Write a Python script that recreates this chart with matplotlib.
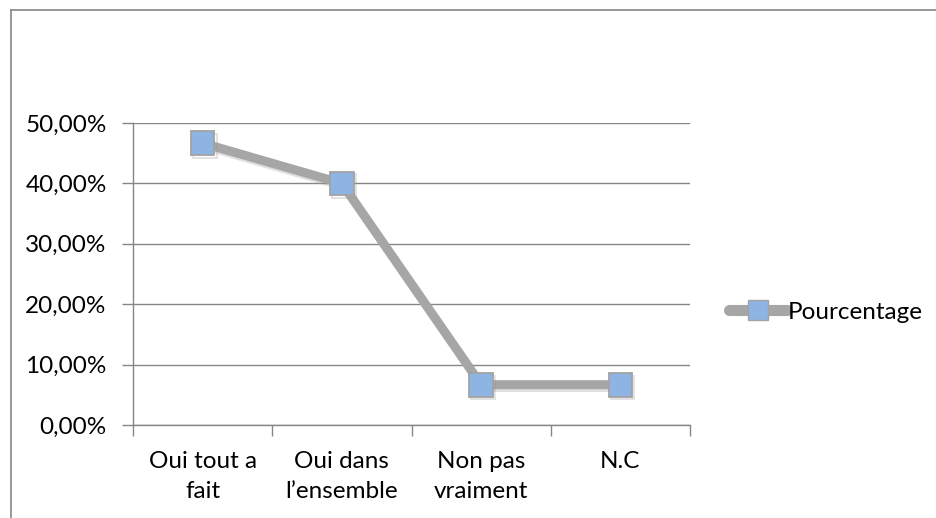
import matplotlib
matplotlib.use("Agg")
import matplotlib.pyplot as plt
from matplotlib.lines import Line2D
import matplotlib.patheffects as pe
from matplotlib.ticker import FuncFormatter, MultipleLocator

categories = ["Oui tout a\nfait", "Oui dans\nl\u2019ensemble", "Non pas\nvraiment", "N.C"]
values = [46.67, 40.00, 6.67, 6.67]
series_name = "Pourcentage"

plt.rcParams["font.family"] = ["Lato", "DejaVu Sans"]
FS = 17.5

fig = plt.figure(figsize=(9.36, 5.18), dpi=100)
W, H = 936, 518

# chart frame (top and left edges)
fig.add_artist(Line2D([10.5 / W, 10.5 / W], [0, 1 - 10 / H], transform=fig.transFigure,
                      color="#868686", lw=1.2))
fig.add_artist(Line2D([10.5 / W, 1], [1 - 10 / H, 1 - 10 / H], transform=fig.transFigure,
                      color="#868686", lw=1.2))

ax = fig.add_axes([133 / W, 1 - 425 / H, (690 - 133) / W, (425 - 123) / H])

x = list(range(len(categories)))
line_color = "#A6A6A6"
marker_face = "#8EB4E3"
edge_color = "#A3A3A3"
shadow = [pe.SimpleLineShadow(offset=(1.5, -2), shadow_color="#999999", alpha=0.3), pe.Normal()]

ax.plot(x, values, color=line_color, lw=6.5, solid_capstyle="round", zorder=3,
        path_effects=shadow)
ax.plot(x, values, ls="none", marker="s", markersize=17, markerfacecolor=marker_face,
        markeredgecolor=edge_color, markeredgewidth=1.3, zorder=4, path_effects=shadow)

ax.set_xlim(-0.5, len(categories) - 0.5)
ax.set_ylim(0, 50)
ax.yaxis.set_major_locator(MultipleLocator(10))
ax.yaxis.set_major_formatter(FuncFormatter(lambda v, _: f"{v:.2f}%".replace(".", ",")))
ax.grid(axis="y", color="#868686", lw=1.0)
ax.set_axisbelow(True)

for s in ["top", "right"]:
    ax.spines[s].set_visible(False)
for s in ["left", "bottom"]:
    ax.spines[s].set_color("#868686")
    ax.spines[s].set_linewidth(1.0)

ax.set_xticks([i - 0.5 for i in range(len(categories) + 1)])
ax.set_xticklabels([])
ax.set_xticks(x, minor=True)
ax.set_xticklabels(categories, minor=True, fontsize=FS, color="#000000", linespacing=1.5)
ax.tick_params(axis="x", which="major", length=8, width=1.0, color="#868686", direction="out")
ax.tick_params(axis="x", which="minor", length=0, pad=19)
ax.tick_params(axis="y", length=8, width=1.0, color="#868686", direction="out", labelsize=FS,
               pad=11)

handle = Line2D([0], [0], color=line_color, lw=8, marker="s", markersize=14,
                markerfacecolor=marker_face, markeredgecolor=edge_color, markeredgewidth=1.0,
                solid_capstyle="round")
fig.legend([handle], [series_name], loc="center left", bbox_to_anchor=(729 / W, 1 - 312 / H),
           frameon=False, fontsize=FS, handlelength=2.4, handletextpad=0.0, borderaxespad=0,
           borderpad=0)

fig.savefig("out.png", dpi=100)
